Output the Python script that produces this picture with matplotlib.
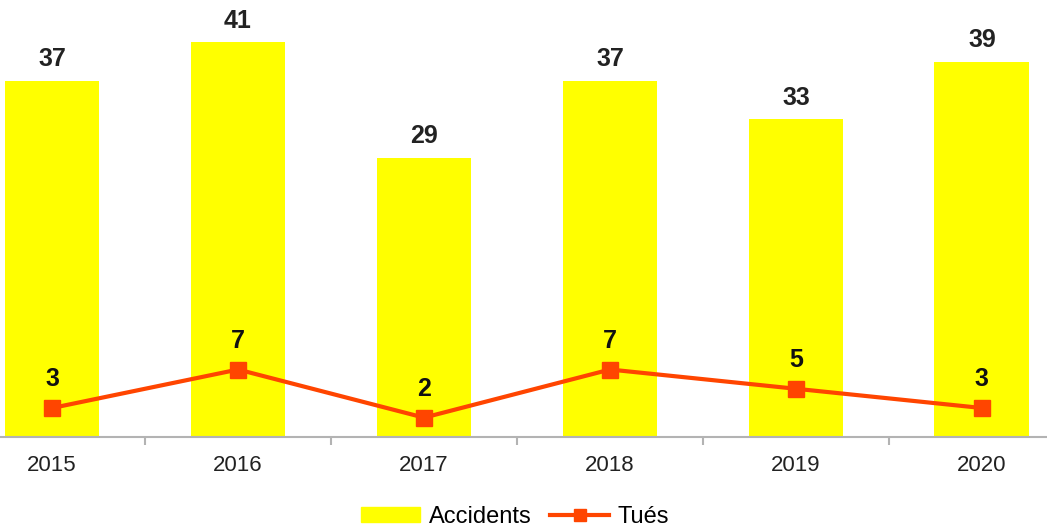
import numpy as np
import matplotlib.pyplot as plt
from matplotlib.patches import Patch
from matplotlib.lines import Line2D

years = ["2015", "2016", "2017", "2018", "2019", "2020"]
accidents = [37, 41, 29, 37, 33, 39]
tues = [3, 7, 2, 7, 5, 3]

plt.rcParams['font.family'] = ['Liberation Sans', 'DejaVu Sans']

fig = plt.figure(figsize=(10.47, 5.27), dpi=100)
ax = fig.add_axes([0, 0.171, 1, 0.829])

x = np.arange(len(years))
ax.bar(x, accidents, width=0.51, color="#FFFF00", zorder=2)
ax.plot(x, tues, color="#FF4500", linewidth=3, marker="s", markersize=12, zorder=3)

for xi, v in zip(x, accidents):
    ax.annotate(str(v), (xi, v), xytext=(0, 7), textcoords="offset points",
                ha="center", va="bottom", fontsize=18, fontweight="bold", color="#222222")
for xi, v in zip(x, tues):
    ax.annotate(str(v), (xi, v), xytext=(0, 12), textcoords="offset points",
                ha="center", va="bottom", fontsize=18, fontweight="bold", color="#111111")

for s in ["top", "right", "left"]:
    ax.spines[s].set_visible(False)
ax.spines["bottom"].set_color("#b3b3b3")
ax.spines["bottom"].set_linewidth(1.5)
ax.set_yticks([])
ax.set_xticks(np.arange(-0.5, 6, 1.0), minor=True)
ax.set_xticks(x)
ax.set_xticklabels(years, fontsize=16, color="#222222")
ax.tick_params(axis="x", which="major", length=0, pad=13)
ax.tick_params(axis="x", which="minor", length=6, width=1.5, color="#b3b3b3")
ax.set_xlim(-0.28, 5.35)
ax.set_ylim(0, 45.4)

handles = [Patch(color="#FFFF00", label="Accidents"),
           Line2D([], [], color="#FF4500", linewidth=3, marker="s", markersize=9, label="Tués")]
fig.legend(handles=handles, loc="lower center", bbox_to_anchor=(0.492, -0.042), ncol=2,
           frameon=False, fontsize=17, handlelength=2.5, handleheight=0.6,
           columnspacing=0.8, handletextpad=0.35)

fig.savefig("out.png", dpi=100)
